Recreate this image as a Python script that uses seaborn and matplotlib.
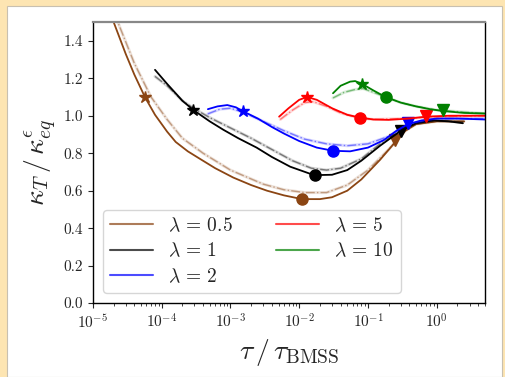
import numpy as np
import matplotlib
matplotlib.use("Agg")
import matplotlib.pyplot as plt
from matplotlib.lines import Line2D
from matplotlib.patches import Rectangle
import seaborn as sns

sns.set_style("ticks")
plt.rcParams["font.family"] = "serif"
plt.rcParams["font.serif"] = ["cmr10", "DejaVu Serif"]
plt.rcParams["mathtext.fontset"] = "cm"
plt.rcParams["axes.formatter.use_mathtext"] = True

# values
lam_labels = [r"$\lambda\,=\,0.5$", r"$\lambda\,=\,1$", r"$\lambda\,=\,2$", r"$\lambda\,=\,5$", r"$\lambda\,=\,10$"]
lam_colors = ["saddlebrown", "black", "blue", "red", "green"]

# lambda = 0.5
x05 = [1.5e-5, 2e-5, 3e-5, 4e-5, 5.7e-5, 8e-5, 1.2e-4, 1.6e-4, 2.4e-4, 3.6e-4, 6e-4, 1.1e-3, 2e-3, 3.4e-3,
       6e-3, 1.1e-2, 2e-2, 3e-2, 5e-2, 8e-2, 0.15, 0.25, 0.35, 0.5, 1.0, 2.5]
y05 = [1.72, 1.50, 1.33, 1.22, 1.10, 1.005, 0.915, 0.86, 0.81, 0.77, 0.72, 0.67, 0.63, 0.60,
       0.575, 0.555, 0.555, 0.565, 0.60, 0.66, 0.765, 0.86, 0.92, 0.955, 0.97, 0.97]
x05d = [1.6e-5, 2.3e-5, 4e-5, 7e-5, 1.2e-4, 2e-4, 4e-4, 1e-3, 3e-3, 6e-3, 1.2e-2, 2.5e-2, 5e-2, 0.1,
        0.2, 0.35, 0.5, 1.0, 2.5]
y05d = [1.75, 1.50, 1.28, 1.10, 0.98, 0.88, 0.80, 0.71, 0.635, 0.605, 0.59, 0.59, 0.63, 0.71,
        0.82, 0.92, 0.955, 0.97, 0.97]

# lambda = 1
x1 = [8e-5, 1.2e-4, 2e-4, 2.9e-4, 5e-4, 7.9e-4, 1.3e-3, 2.4e-3, 4e-3, 7.4e-3, 1.45e-2, 1.7e-2, 3e-2,
      5e-2, 8e-2, 0.15, 0.3, 0.5, 0.9, 1.5, 2.4]
y1 = [1.245, 1.17, 1.08, 1.03, 0.97, 0.925, 0.88, 0.83, 0.78, 0.728, 0.69, 0.683, 0.685,
      0.71, 0.76, 0.84, 0.92, 0.96, 0.975, 0.97, 0.96]
x1d = [8e-5, 1.2e-4, 2e-4, 2.9e-4, 5e-4, 1e-3, 2e-3, 4e-3, 8e-3, 1.5e-2, 2.5e-2, 4e-2, 8e-2, 0.15,
       0.3, 0.5, 1.0, 2.4]
y1d = [1.21, 1.16, 1.08, 1.04, 0.99, 0.935, 0.88, 0.82, 0.76, 0.72, 0.71, 0.72, 0.77, 0.85,
       0.92, 0.96, 0.975, 0.965]

# lambda = 2
x2 = [4.7e-4, 6.5e-4, 9e-4, 1.2e-3, 1.5e-3, 2.5e-3, 4e-3, 6e-3, 1e-2, 1.8e-2, 3.1e-2, 5.5e-2, 0.1,
      0.17, 0.26, 0.38, 0.6, 1.0, 2.0, 5.0]
y2 = [1.035, 1.05, 1.057, 1.045, 1.025, 0.985, 0.94, 0.905, 0.865, 0.83, 0.813, 0.81, 0.83,
      0.87, 0.92, 0.955, 0.975, 0.985, 0.985, 0.98]
x2d = [4.7e-4, 7e-4, 1e-3, 1.5e-3, 3e-3, 6e-3, 1.2e-2, 2.5e-2, 5e-2, 0.1, 0.2, 0.38, 1.0, 5.0]
y2d = [1.01, 1.035, 1.04, 1.02, 0.97, 0.92, 0.875, 0.85, 0.84, 0.85, 0.89, 0.955, 0.985, 0.985]

# lambda = 5
x5 = [5.1e-3, 7e-3, 1e-2, 1.3e-2, 1.8e-2, 3e-2, 5e-2, 7.7e-2, 0.12, 0.2, 0.4, 0.7, 1.5, 5.0]
y5 = [0.995, 1.04, 1.085, 1.10, 1.085, 1.04, 1.005, 0.99, 0.98, 0.978, 0.985, 0.995, 1.0, 1.0]
x5d = [5.3e-3, 8e-3, 1.2e-2, 1.6e-2, 2.5e-2, 4e-2, 7e-2, 0.12, 0.3, 1.0, 5.0]
y5d = [0.98, 1.03, 1.07, 1.075, 1.05, 1.015, 0.99, 0.98, 0.985, 0.995, 1.0]

# lambda = 10
x10 = [3.1e-2, 4e-2, 5.5e-2, 6.5e-2, 8.2e-2, 0.12, 0.18, 0.3, 0.5, 0.8, 1.24, 2.5, 5.0]
y10 = [1.12, 1.16, 1.182, 1.185, 1.17, 1.135, 1.10, 1.07, 1.05, 1.035, 1.025, 1.015, 1.012]
x10d = [3.1e-2, 4.5e-2, 6.5e-2, 8.5e-2, 0.12, 0.18, 0.3, 0.5, 1.0, 5.0]
y10d = [1.095, 1.125, 1.14, 1.145, 1.125, 1.10, 1.07, 1.05, 1.03, 1.012]

# marked points: star, circle, triangle
star_x = [5.7e-5, 2.9e-4, 1.5e-3, 1.3e-2, 8.2e-2]
star_y = [1.10, 1.03, 1.025, 1.10, 1.17]
circ_x = [1.1e-2, 1.7e-2, 3.1e-2, 7.7e-2, 0.18]
circ_y = [0.555, 0.683, 0.813, 0.99, 1.10]
tri_x = [0.25, 0.30, 0.38, 0.70, 1.24]
tri_y = [0.87, 0.92, 0.96, 1.0, 1.03]

solid = [(x05, y05), (x1, y1), (x2, y2), (x5, y5), (x10, y10)]
dashed = [(x05d, y05d), (x1d, y1d), (x2d, y2d), (x5d, y5d), (x10d, y10d)]

fig = plt.figure(figsize=(5.05, 3.77), dpi=100, facecolor="#fde5b2")
fig.patches.append(Rectangle((7 / 505, 0), 495 / 505, 371 / 377, transform=fig.transFigure,
                             facecolor="white", edgecolor="#c8c0b0", lw=0.8, zorder=-1))
ax = fig.add_axes([0.184, 0.196, 0.776, 0.7455])

for i, c in enumerate(lam_colors):
    xs, ys = solid[i]
    xd, yd = dashed[i]
    sns.lineplot(x=xd, y=yd, ax=ax, color=c, alpha=0.45, lw=1.0, ls="-.", sort=False, estimator=None)
    sns.lineplot(x=xd, y=yd, ax=ax, color=c, alpha=0.15, lw=2.2, sort=False, estimator=None)
    sns.lineplot(x=xs, y=ys, ax=ax, color=c, lw=1.3, sort=False, estimator=None)
    ax.plot(star_x[i], star_y[i], marker="*", ms=9, color=c, ls="none")
    ax.plot(circ_x[i], circ_y[i], marker="o", ms=8, color=c, ls="none")
    ax.plot(tri_x[i], tri_y[i], marker="v", ms=8, color=c, ls="none")

ax.set_xscale("log")
ax.set_xlim(1e-5, 5)
ax.set_ylim(0, 1.5)
ax.set_yticks(np.arange(0, 1.41, 0.2))
ax.set_yticklabels([f"{v:.1f}" for v in np.arange(0, 1.41, 0.2)])
ax.tick_params(labelsize=11)
for s in ["left", "bottom", "right"]:
    ax.spines[s].set_color("black")
    ax.spines[s].set_linewidth(1.0)
ax.spines["top"].set_color("#888888")
ax.spines["top"].set_linewidth(1.6)

ax.set_xlabel(r"$\tau\,/\,\tau_{\rm BMSS}$", fontsize=20)
ax.set_ylabel(r"$\kappa_T\,/\,\kappa^{\epsilon}_{eq}$", fontsize=20)

handles = [Line2D([], [], color=c, lw=1.5, alpha=0.7) for c in lam_colors]
ax.legend(handles, lam_labels, ncol=2, loc="lower left", bbox_to_anchor=(0.026, 0.036),
          borderaxespad=0, fontsize=14, handlelength=2.2, columnspacing=2.2,
          labelspacing=0.36, borderpad=0.35, frameon=True)

fig.savefig("out.png", dpi=100, facecolor=fig.get_facecolor())
